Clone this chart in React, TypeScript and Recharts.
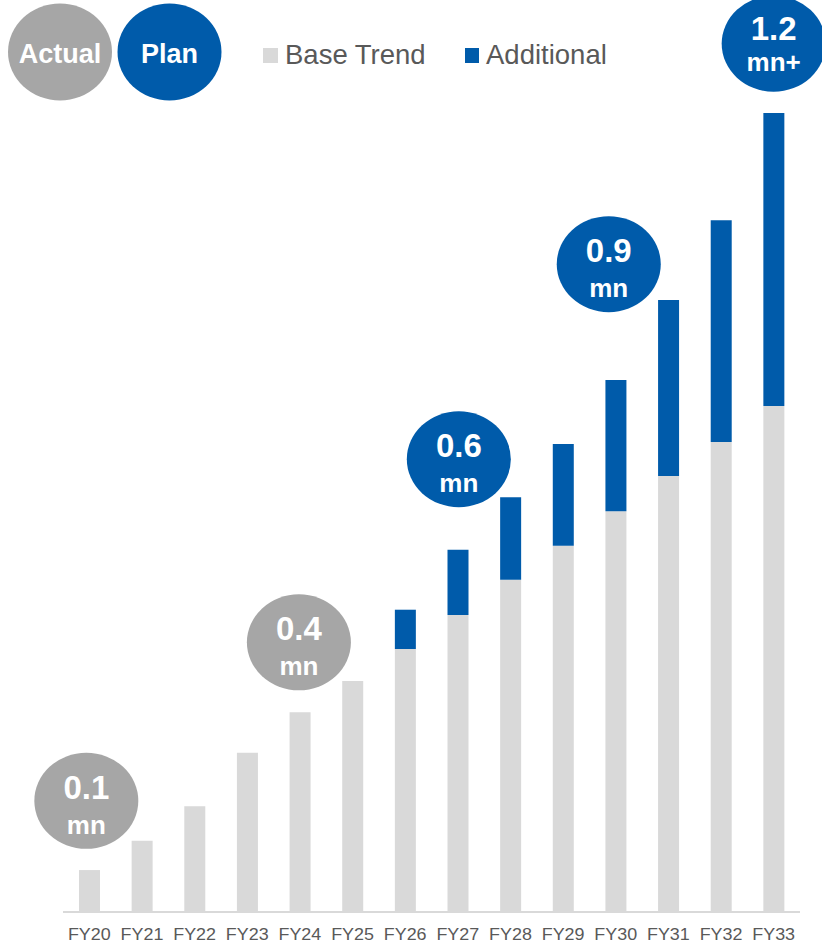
import React from 'react';
import { BarChart, Bar, XAxis, YAxis, ReferenceDot } from 'recharts';

const categories = ['FY20', 'FY21', 'FY22', 'FY23', 'FY24', 'FY25', 'FY26', 'FY27', 'FY28', 'FY29', 'FY30', 'FY31', 'FY32', 'FY33'];
const baseTrend = [63, 107, 159, 239, 300, 347, 395, 446, 499, 550, 602, 655, 706, 760];
const additional = [0, 0, 0, 0, 0, 0, 59, 98, 124, 153, 197, 264, 333, 440];

const annotationCategories = ['FY20', 'FY24', 'FY27', 'FY30', 'FY33'];
const annotationNumbers = ['0.1', '0.4', '0.6', '0.9', '1.2'];
const annotationUnits = ['mn', 'mn', 'mn', 'mn', 'mn+'];
const annotationKinds = ['actual', 'actual', 'plan', 'plan', 'plan'];

const seriesNames = ['Base Trend', 'Additional'];
const phaseNames = ['Actual', 'Plan'];

// layout / style config for annotations (positions, not data)
const annotationLevels = [167, 405, 680, 973, 1304];
const annotationDx = [-3, -1, 1, -7, 0];
const annotationNumDy = [-2, -2, -2, -2, -4];
const annotationUnitDy = [33, 33, 33, 33, 27];

const GRAY = '#d9d9d9';
const BLUE = '#005baa';
const DARK_GRAY = '#a6a6a6';
const TEXT = '#595959';
const FONT = '"Liberation Sans", Arial, sans-serif';

const data = categories.map((c, i) => ({ name: c, base: baseTrend[i], additional: additional[i] }));

const Tick = (props: any) => {
  const { x, y, payload } = props;
  return (
    <g transform={`translate(${x},${y + 28})`}>
      <text transform="scale(1.12,1)" textAnchor="middle" fontSize={16} fontFamily={FONT} fill={TEXT}>
        {payload.value}
      </text>
    </g>
  );
};

const makeBubble = (i: number) => (props: any) => {
  const { cx, cy } = props;
  const x = cx + annotationDx[i];
  const fill = annotationKinds[i] === 'actual' ? DARK_GRAY : BLUE;
  return (
    <g>
      <ellipse cx={x} cy={cy} rx={52} ry={48} fill={fill} />
      <text x={x} y={cy + annotationNumDy[i]} textAnchor="middle" fontSize={33} fontWeight="bold" fontFamily={FONT} fill="#ffffff">
        {annotationNumbers[i]}
      </text>
      <text x={x} y={cy + annotationUnitDy[i]} textAnchor="middle" fontSize={26} fontWeight="bold" fontFamily={FONT} fill="#ffffff">
        {annotationUnits[i]}
      </text>
    </g>
  );
};

export default function App() {
  return (
    <div style={{ position: 'absolute', left: 0, top: 0, width: 822, height: 943, background: '#ffffff' }}>
      <BarChart
        width={822}
        height={943}
        data={data}
        margin={{ top: 113, right: 22, bottom: 0, left: 63 }}
        barSize={21}
      >
        <XAxis
          dataKey="name"
          height={31}
          tickLine={false}
          tickSize={0}
          tickMargin={0}
          axisLine={{ stroke: GRAY, strokeWidth: 2 }}
          tick={<Tick />}
          interval={0}
        />
        <YAxis hide domain={[0, 1200]} allowDataOverflow />
        <Bar dataKey="base" name={seriesNames[0]} stackId="a" fill={GRAY} isAnimationActive={false} />
        <Bar dataKey="additional" name={seriesNames[1]} stackId="a" fill={BLUE} isAnimationActive={false} />
        {annotationCategories.map((c, i) => (
          <ReferenceDot
            key={c}
            x={c}
            y={annotationLevels[i]}
            r={0}
            ifOverflow="visible"
            shape={makeBubble(i)}
          />
        ))}
      </BarChart>
      <svg width={822} height={110} style={{ position: 'absolute', left: 0, top: 0 }}>
        <ellipse cx={60} cy={52} rx={52} ry={48.5} fill={DARK_GRAY} />
        <text x={60} y={63} textAnchor="middle" fontSize={27} fontWeight="bold" fontFamily={FONT} fill="#ffffff">
          {phaseNames[0]}
        </text>
        <ellipse cx={169.5} cy={52} rx={52} ry={48.5} fill={BLUE} />
        <text x={169.5} y={63} textAnchor="middle" fontSize={27} fontWeight="bold" fontFamily={FONT} fill="#ffffff">
          {phaseNames[1]}
        </text>
        <rect x={263} y={48} width={15} height={15} fill={GRAY} />
        <text x={285} y={64} fontSize={27.5} fontFamily={FONT} fill={TEXT}>
          {seriesNames[0]}
        </text>
        <rect x={465} y={48} width={14} height={15} fill={BLUE} />
        <text x={486} y={64} fontSize={27.5} fontFamily={FONT} fill={TEXT}>
          {seriesNames[1]}
        </text>
      </svg>
    </div>
  );
}
